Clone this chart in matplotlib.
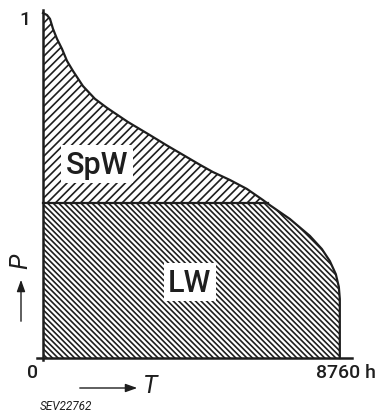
import numpy as np
import matplotlib
matplotlib.use('Agg')
import matplotlib.pyplot as plt
from matplotlib.patches import FancyArrowPatch

# load duration curve (T in h, P relative)
T_hours = [0, 118, 206, 295, 413, 560, 708, 885, 1180, 1534, 1888, 2507, 3156,
           3657, 4041, 4631, 5014, 5516, 6017, 6489, 6695, 7285, 7875, 8229,
           8465, 8642, 8731, 8760, 8760]
P_rel = [1.0, 0.994, 0.983, 0.954, 0.925, 0.896, 0.861, 0.832, 0.788, 0.751,
         0.725, 0.684, 0.646, 0.616, 0.594, 0.560, 0.539, 0.516, 0.490, 0.458,
         0.443, 0.403, 0.354, 0.316, 0.281, 0.243, 0.206, 0.171, 0.0]
base_level = 0.448     # LW level
T_end = 8760
area_labels = ['SpW', 'LW']

ink = '#1e1e1e'
T = np.array(T_hours, dtype=float)
P = np.array(P_rel)
# fine grid so the fill follows the curve
Tf = np.linspace(0, T_end, 800)
Pf = np.interp(Tf, T[:-1], P[:-1])
low = np.minimum(Pf, base_level)

plt.rcParams['hatch.linewidth'] = 1.2
plt.rcParams['font.family'] = ['Roboto', 'DejaVu Sans']
fig = plt.figure(figsize=(3.84, 4.14), dpi=100)
ax = fig.add_axes([0.0961, 0.1287, 0.8206, 0.8442])
ax.set_xlim(-180, 9120)
ax.set_ylim(-0.005, 1.008)

# SpW (peak energy) above base level
ax.fill_between(Tf, low, Pf, facecolor='white', edgecolor=ink,
                hatch='////', linewidth=0)
# LW (base energy)
ax.fill_between(Tf, 0, low, facecolor='white', edgecolor=ink,
                hatch='\\\\\\\\\\\\', linewidth=0)

ax.plot(T, P, color=ink, lw=1.6, solid_joinstyle='round')
cross = np.interp(base_level, P[::-1][1:], T[::-1][1:])
ax.plot([0, cross], [base_level, base_level], color=ink, lw=1.6)

for s in ['top', 'right']:
    ax.spines[s].set_visible(False)
for s in ['left', 'bottom']:
    ax.spines[s].set_position(('data', 0))
    ax.spines[s].set_linewidth(1.8)
    ax.spines[s].set_color(ink)
ax.set_xticks([])
ax.set_yticks([])

box = dict(facecolor='white', edgecolor='none', pad=3)
ax.text(1593, 0.562, area_labels[0], fontsize=22, fontweight='medium',
        ha='center', va='center', color=ink, bbox=box)
ax.text(4336, 0.22, area_labels[1], fontsize=22, fontweight='medium',
        ha='center', va='center', color=ink, bbox=box)

# tick-ish labels
fs = 14
fig.text(25 / 384, 1 - 20 / 414, '1', fontsize=fs, fontweight='medium',
         ha='center', va='center', color=ink)
fig.text(33 / 384, 1 - 373 / 414, '0', fontsize=fs, fontweight='medium',
         ha='center', va='center', color=ink)
fig.text(346 / 384, 1 - 373 / 414, '8760 h', fontsize=fs, fontweight='medium',
         ha='center', va='center', color=ink)

# axis names with arrows
fig.text(20 / 384, 1 - 261 / 414, 'P', fontsize=18, style='italic', rotation=90,
         ha='center', va='center', color=ink)
fig.text(150 / 384, 1 - 386 / 414, 'T', fontsize=18, style='italic',
         ha='center', va='center', color=ink)
fig.patches.append(FancyArrowPatch(
    (21 / 384, 1 - 325 / 414), (21 / 384, 1 - 278 / 414), transform=fig.transFigure,
    arrowstyle='-|>,head_length=7,head_width=2.5', color=ink, lw=1.0))
fig.patches.append(FancyArrowPatch(
    (77 / 384, 1 - 389 / 414), (140 / 384, 1 - 389 / 414), transform=fig.transFigure,
    arrowstyle='-|>,head_length=7,head_width=2.5', color=ink, lw=1.0))

fig.text(40 / 384, 1 - 407 / 414, 'SEV22762', fontsize=8.5, style='italic',
         ha='left', va='center', color=ink)

fig.savefig('out.png', dpi=100)
